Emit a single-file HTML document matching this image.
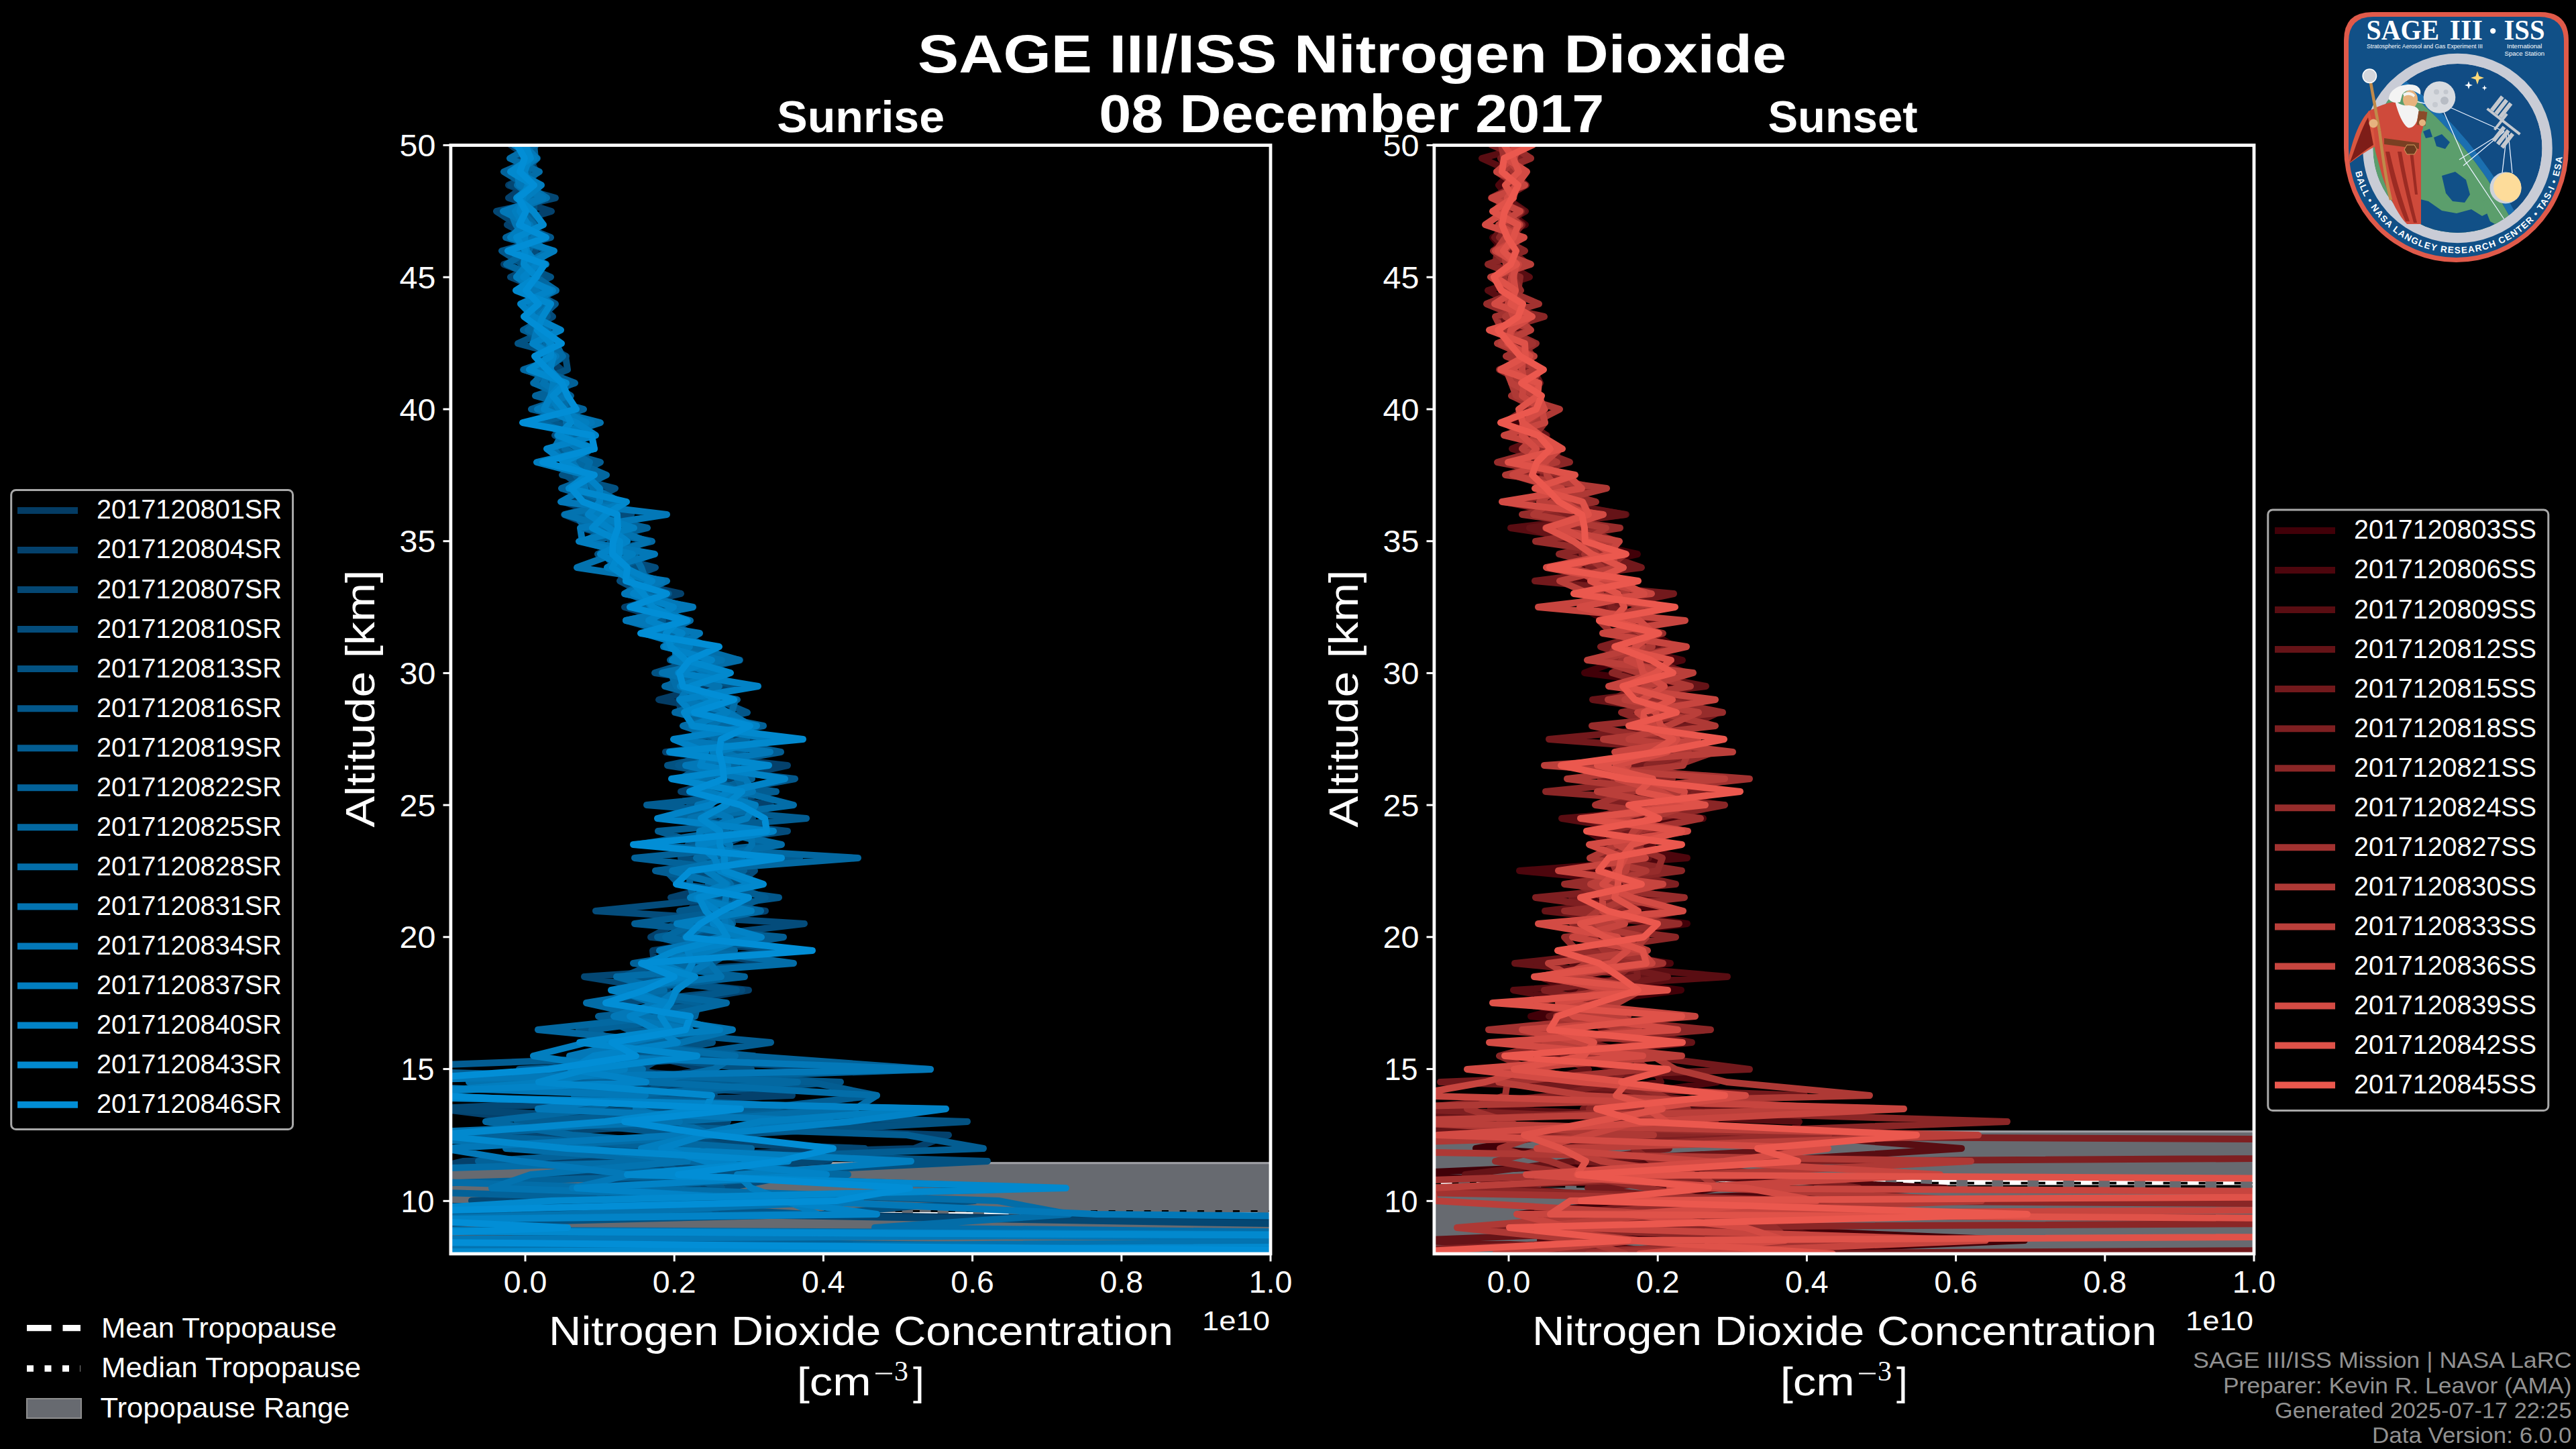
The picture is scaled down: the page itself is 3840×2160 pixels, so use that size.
<!DOCTYPE html>
<html><head><meta charset="utf-8"><title>SAGE III/ISS Nitrogen Dioxide</title>
<style>html,body{margin:0;padding:0;background:#000;}body{width:3840px;height:2160px;overflow:hidden;position:relative;}</style>
</head><body>
<svg width="3840" height="2160" viewBox="0 0 3840 2160" style="position:absolute;left:0;top:0" font-family='"Liberation Sans", sans-serif'>
<rect width="3840" height="2160" fill="#000"/>
<defs>
<clipPath id="clipL"><rect x="671.9" y="216.5" width="1222.1" height="1652.5"/></clipPath>
<clipPath id="clipR"><rect x="2137.9" y="216.5" width="1222.1" height="1652.5"/></clipPath>
</defs>
<g clip-path="url(#clipL)">
<rect x="671.9" y="1732.5" width="1222.1" height="146.5" fill="#676a70"/>
<line x1="671.9" y1="1733.7" x2="1894.0" y2="1733.7" stroke="#a0a1a6" stroke-width="3"/>
<line x1="671.9" y1="1812.0" x2="1894.0" y2="1812.0" stroke="#fff" stroke-width="10" stroke-dasharray="36.7 16.3"/>
<line x1="671.9" y1="1805.3" x2="1894.0" y2="1805.3" stroke="#000" stroke-width="2.7" stroke-dasharray="10 16.7 10 16.3"/>
<line x1="681.9" y1="1812.3" x2="1894.0" y2="1812.3" stroke="#000" stroke-width="2.5" stroke-dasharray="16.7 36.3"/>
<polyline points="-696,1869 3067,1849 2633,1830 1118,1810 996,1790 1061,1771 910,1751 1236,1731 1192,1712 986,1692 1245,1672 863,1653 898,1633 1140,1613 910,1594 1027,1574 924,1554 973,1535 1014,1515 908,1495 953,1476 1099,1456 975,1436 973,1417 1104,1397 1074,1377 1027,1358 1045,1338 1124,1318 1107,1298 1032,1279 1053,1259 1119,1239 1096,1220 1047,1200 1113,1180 1103,1161 1037,1141 1054,1121 1109,1102 1063,1082 1090,1062 982,1043 1057,1023 1028,1003 1002,984 1054,964 1014,944 967,925 1021,905 957,885 950,866 935,846 938,826 867,807 941,787 896,767 840,748 910,728 855,708 875,689 835,669 852,649 846,630 820,610 847,590 817,571 827,551 804,531 830,512 803,492 794,472 809,453 805,433 802,413 751,394 817,374 781,354 777,335 772,315 807,295 758,276 799,256 790,236 761,216" fill="none" stroke="#043c64" stroke-width="10" stroke-linejoin="round" stroke-linecap="round"/>
<polyline points="3656,1869 3037,1849 36,1830 1005,1810 461,1790 577,1771 608,1751 690,1731 1363,1712 1414,1692 811,1672 656,1653 1181,1633 931,1613 1058,1594 967,1574 1041,1554 980,1535 915,1515 1005,1495 1116,1476 925,1456 999,1436 1160,1417 970,1397 1007,1377 1141,1358 1000,1338 1080,1318 1102,1298 1057,1279 1049,1259 1082,1239 1076,1220 1149,1200 1015,1180 1082,1161 1174,1141 992,1121 1143,1102 1067,1082 1015,1062 1012,1043 1094,1023 1044,1003 1037,984 1002,964 1028,944 999,925 931,905 1015,885 928,866 922,846 928,826 962,807 891,787 841,767 916,748 871,728 864,708 852,689 836,669 879,649 817,630 841,610 826,590 822,571 837,551 813,531 799,512 802,492 807,472 816,453 787,433 795,413 784,394 788,374 791,354 756,335 822,315 758,295 784,276 801,256 775,236 782,216" fill="none" stroke="#04416c" stroke-width="10" stroke-linejoin="round" stroke-linecap="round"/>
<polyline points="2690,1869 2408,1849 2253,1830 1046,1810 703,1790 1040,1771 817,1751 1225,1731 1289,1712 745,1692 1085,1672 636,1653 1065,1633 996,1613 1259,1594 910,1574 1042,1554 1028,1535 965,1515 1002,1495 995,1476 871,1456 1163,1436 1007,1417 1040,1397 1014,1377 1033,1358 1077,1338 1108,1318 1022,1298 1081,1279 1079,1259 1127,1239 1046,1220 1087,1200 1138,1180 1024,1161 1112,1141 1019,1121 1116,1102 1059,1082 1062,1062 1033,1043 1026,1023 1051,1003 1022,984 1050,964 1006,944 950,925 1013,905 943,885 970,866 918,846 900,826 964,807 896,787 862,767 868,748 895,728 852,708 869,689 868,669 861,649 818,630 858,610 830,590 807,571 804,551 844,531 810,512 830,492 795,472 793,453 809,433 761,413 805,394 782,374 811,354 771,335 740,315 828,295 761,276 798,256 773,236 788,216" fill="none" stroke="#044773" stroke-width="10" stroke-linejoin="round" stroke-linecap="round"/>
<polyline points="3261,1869 -316,1849 -806,1830 903,1810 894,1790 1080,1771 1189,1751 1019,1731 1090,1712 1014,1692 1417,1672 957,1653 951,1633 1006,1613 956,1594 991,1574 952,1554 992,1535 941,1515 922,1495 1106,1476 925,1456 1061,1436 1093,1417 1030,1397 1199,1377 888,1358 1086,1338 1099,1318 1125,1298 1015,1279 1026,1259 1174,1239 1004,1220 1106,1200 1123,1180 1026,1161 1083,1141 1110,1121 1049,1102 1082,1082 1018,1062 1075,1043 1015,1023 1019,1003 1103,984 995,964 1016,944 955,925 995,905 961,885 924,866 977,846 897,826 923,807 876,787 941,767 883,748 870,728 843,708 862,689 880,669 827,649 848,630 834,610 814,590 855,571 780,551 840,531 808,512 787,492 824,472 802,453 791,433 782,413 805,394 797,374 776,354 803,335 776,315 783,295 791,276 765,256 783,236 791,216" fill="none" stroke="#044c7b" stroke-width="10" stroke-linejoin="round" stroke-linecap="round"/>
<polyline points="639,1869 -269,1849 432,1830 1226,1810 1453,1790 901,1771 1060,1751 1472,1731 857,1712 1081,1692 1442,1672 841,1653 962,1633 984,1613 1120,1594 957,1574 1062,1554 941,1535 971,1515 1046,1495 926,1476 1019,1456 1062,1436 1083,1417 1006,1397 1078,1377 1061,1358 1100,1338 1106,1318 979,1298 1102,1279 1079,1259 1105,1239 1122,1220 1032,1200 1091,1180 1118,1161 995,1141 1089,1121 1080,1102 1080,1082 1068,1062 1031,1043 1111,1023 976,1003 1038,984 1047,964 1002,944 978,925 987,905 976,885 936,866 953,846 891,826 934,807 868,787 905,767 877,748 917,728 838,708 871,689 834,669 856,649 840,630 827,610 850,590 795,571 846,551 843,531 772,512 816,492 782,472 816,453 774,433 821,413 777,394 769,374 789,354 777,335 796,315 796,295 771,276 775,256 785,236 790,216" fill="none" stroke="#035282" stroke-width="10" stroke-linejoin="round" stroke-linecap="round"/>
<polyline points="75,1869 3890,1849 -452,1830 1203,1810 855,1790 1076,1771 1019,1751 983,1731 924,1712 1032,1692 823,1672 1145,1653 959,1633 1253,1613 774,1594 1124,1574 896,1554 863,1535 998,1515 986,1495 1098,1476 929,1456 977,1436 1172,1417 1024,1397 1069,1377 1013,1358 1161,1338 1012,1318 993,1298 1096,1279 1081,1259 1101,1239 1117,1220 1028,1200 1082,1180 1185,1161 1011,1141 1055,1121 1089,1102 1019,1082 1114,1062 1069,1043 1003,1023 1076,1003 999,984 1030,964 985,944 988,925 961,905 997,885 941,866 937,846 903,826 910,807 912,787 915,767 883,748 857,728 881,708 884,689 830,669 876,649 823,630 848,610 809,590 845,571 793,551 831,531 805,512 785,492 807,472 828,453 790,433 805,413 779,394 748,374 821,354 773,335 783,315 783,295 779,276 780,256 801,236 778,216" fill="none" stroke="#03578a" stroke-width="10" stroke-linejoin="round" stroke-linecap="round"/>
<polyline points="3354,1869 3528,1849 -736,1830 1068,1810 944,1790 1552,1771 969,1751 949,1731 1466,1712 1352,1692 771,1672 1126,1653 1307,1633 1208,1613 478,1594 1009,1574 1149,1554 937,1535 892,1515 1076,1495 944,1476 992,1456 1030,1436 1043,1417 1168,1397 946,1377 1083,1358 1141,1338 1084,1318 977,1298 1192,1279 1049,1259 981,1239 1202,1220 964,1200 1157,1180 1014,1161 1049,1141 1164,1121 1060,1102 1050,1082 1068,1062 1045,1043 1039,1023 1013,1003 1064,984 1008,964 1000,944 984,925 982,905 937,885 972,866 922,846 972,826 870,807 912,787 903,767 900,748 871,728 858,708 895,689 823,669 852,649 876,630 792,610 851,590 820,571 799,551 822,531 828,512 780,492 816,472 812,453 783,433 799,413 779,394 787,374 784,354 785,335 794,315 778,295 803,276 772,256 781,236 799,216" fill="none" stroke="#035d92" stroke-width="10" stroke-linejoin="round" stroke-linecap="round"/>
<polyline points="2602,1869 811,1849 -757,1830 896,1810 1064,1790 426,1771 1064,1751 713,1731 1039,1712 698,1692 949,1672 1256,1653 856,1633 851,1613 1387,1594 1114,1574 920,1554 882,1535 1036,1515 1041,1495 928,1476 1110,1456 944,1436 1061,1417 980,1397 1092,1377 1088,1358 1100,1338 1056,1318 1109,1298 946,1279 1152,1259 1071,1239 1044,1220 1117,1200 1054,1180 1121,1161 1052,1141 1107,1121 1022,1102 1138,1082 1036,1062 1099,1043 995,1023 1025,1003 1041,984 1006,964 992,944 1010,925 976,905 952,885 955,866 923,846 946,826 882,807 965,787 866,767 903,748 837,728 889,708 851,689 870,669 848,649 807,630 870,610 798,590 857,571 805,551 801,531 833,512 800,492 789,472 800,453 810,433 770,413 794,394 822,374 754,354 796,335 785,315 790,295 784,276 751,256 798,236 796,216" fill="none" stroke="#036299" stroke-width="10" stroke-linejoin="round" stroke-linecap="round"/>
<polyline points="445,1869 3998,1849 -73,1830 1058,1810 902,1790 887,1771 1264,1751 1026,1731 1120,1712 853,1692 724,1672 889,1653 929,1633 1189,1613 812,1594 1004,1574 999,1554 802,1535 990,1515 1083,1495 931,1476 1075,1456 1005,1436 1095,1417 992,1397 1033,1377 1134,1358 1034,1338 1028,1318 1029,1298 1279,1279 949,1259 1081,1239 1008,1220 1110,1200 1110,1180 1099,1161 1098,1141 1024,1121 1113,1102 1093,1082 1006,1062 1065,1043 991,1023 1056,1003 1010,984 1061,964 989,944 1029,925 953,905 979,885 947,866 932,846 895,826 972,807 872,787 858,767 905,748 863,728 904,708 859,689 863,669 861,649 804,630 817,610 838,590 840,571 781,551 838,531 829,512 787,492 810,472 788,453 829,433 799,413 755,394 788,374 797,354 791,335 781,315 787,295 788,276 787,256 791,236 771,216" fill="none" stroke="#0368a1" stroke-width="10" stroke-linejoin="round" stroke-linecap="round"/>
<polyline points="40,1869 3066,1849 1304,1830 1594,1810 1488,1790 923,1771 332,1751 1013,1731 754,1712 1063,1692 1010,1672 1275,1653 1307,1633 969,1613 1064,1594 1096,1574 904,1554 1016,1535 965,1515 874,1495 990,1476 919,1456 1183,1436 1044,1417 1021,1397 1059,1377 1070,1358 1050,1338 1089,1318 1071,1298 1038,1279 1165,1259 1070,1239 1030,1220 1183,1200 1105,1180 1048,1161 1084,1141 1018,1121 1078,1102 1018,1082 1091,1062 1096,1043 1008,1023 1000,1003 1102,984 1032,964 1002,944 933,925 1023,905 931,885 963,866 956,846 945,826 872,807 908,787 875,767 906,748 856,728 871,708 879,689 842,669 849,649 844,630 843,610 839,590 796,571 813,551 839,531 814,512 817,492 797,472 812,453 784,433 779,413 810,394 765,374 786,354 796,335 776,315 796,295 771,276 804,256 760,236 796,216" fill="none" stroke="#036da8" stroke-width="10" stroke-linejoin="round" stroke-linecap="round"/>
<polyline points="-387,1869 2256,1849 208,1830 847,1810 1283,1790 733,1771 791,1751 1025,1731 877,1712 531,1692 1013,1672 948,1653 950,1633 699,1613 958,1594 874,1574 1016,1554 1092,1535 958,1515 975,1495 917,1476 1075,1456 1058,1436 1003,1417 1095,1397 1089,1377 1068,1358 1047,1338 1072,1318 1002,1298 1105,1279 1121,1259 1119,1239 1029,1220 1120,1200 1046,1180 1042,1161 1127,1141 1081,1121 1024,1102 1061,1082 1086,1062 1035,1043 1072,1023 987,1003 1076,984 989,964 1023,944 953,925 1026,905 952,885 994,866 860,846 915,826 965,807 910,787 842,767 925,748 884,728 876,708 840,689 826,669 837,649 895,630 817,610 838,590 810,571 821,551 816,531 802,512 813,492 791,472 805,453 815,433 781,413 782,394 818,374 783,354 769,335 761,315 815,295 785,276 766,256 800,236 766,216" fill="none" stroke="#0373b0" stroke-width="10" stroke-linejoin="round" stroke-linecap="round"/>
<polyline points="295,1869 382,1849 3651,1830 1634,1810 1190,1790 853,1771 940,1751 776,1731 660,1712 1019,1692 1238,1672 802,1653 962,1633 426,1613 1387,1594 849,1574 936,1554 1029,1535 915,1515 983,1495 1010,1476 1018,1456 1054,1436 983,1417 1075,1397 1081,1377 1079,1358 1082,1338 1084,1318 1053,1298 1084,1279 1088,1259 1054,1239 1089,1220 1040,1200 1122,1180 1111,1161 1022,1141 1148,1121 1011,1102 1120,1082 1086,1062 1014,1043 1027,1023 1057,1003 1008,984 1006,964 1043,944 933,925 1033,905 931,885 987,866 908,846 976,826 868,807 865,787 994,767 836,748 872,728 867,708 853,689 862,669 831,649 882,630 801,610 846,590 835,571 803,551 829,531 795,512 800,492 803,472 821,453 798,433 770,413 814,394 765,374 798,354 790,335 750,315 810,295 774,276 771,256 800,236 781,216" fill="none" stroke="#0378b8" stroke-width="10" stroke-linejoin="round" stroke-linecap="round"/>
<polyline points="244,1869 3847,1849 -307,1830 1219,1810 1172,1790 1120,1771 1099,1751 1358,1731 956,1712 1039,1692 1133,1672 1382,1653 571,1633 813,1613 931,1594 795,1574 875,1554 1073,1535 992,1515 992,1495 941,1476 1035,1456 985,1436 1060,1417 1115,1397 1009,1377 1120,1358 1029,1338 1082,1318 1055,1298 1132,1279 1041,1259 1043,1239 1113,1220 1126,1200 1053,1180 1032,1161 1085,1141 1063,1121 1153,1102 1031,1082 1084,1062 1056,1043 1014,1023 1073,1003 1002,984 1028,964 959,944 1025,925 971,905 956,885 970,866 905,846 943,826 863,807 945,787 884,767 930,748 851,728 873,708 800,689 886,669 835,649 874,630 833,610 821,590 825,571 820,551 814,531 820,512 807,492 794,472 791,453 824,433 770,413 786,394 826,374 761,354 780,335 768,315 784,295 807,276 769,256 796,236 767,216" fill="none" stroke="#027ebf" stroke-width="10" stroke-linejoin="round" stroke-linecap="round"/>
<polyline points="775,1869 3443,1849 -386,1830 1307,1810 1159,1790 860,1771 1232,1751 1051,1731 986,1712 1051,1692 1266,1672 1410,1653 493,1633 963,1613 851,1594 885,1574 1010,1554 978,1535 939,1515 996,1495 911,1476 1021,1456 1032,1436 1025,1417 1135,1397 1063,1377 1069,1358 1039,1338 1121,1318 1073,1298 1065,1279 1042,1259 1153,1239 980,1220 1058,1200 1085,1180 1170,1161 1044,1141 1052,1121 1004,1102 1128,1082 1031,1062 1013,1043 1130,1023 1011,1003 1061,984 992,964 1017,944 967,925 1004,905 944,885 972,866 931,846 895,826 935,807 908,787 877,767 894,748 894,728 873,708 842,689 815,669 888,649 859,630 811,610 821,590 838,571 820,551 825,531 794,512 836,492 795,472 776,453 820,433 780,413 801,394 785,374 782,354 787,335 775,315 779,295 787,276 782,256 789,236 782,216" fill="none" stroke="#0283c7" stroke-width="10" stroke-linejoin="round" stroke-linecap="round"/>
<polyline points="140,1869 3634,1849 -546,1830 492,1810 822,1790 1589,1771 935,1751 1175,1731 845,1712 645,1692 902,1672 1052,1653 1061,1633 803,1613 874,1594 1039,1574 864,1554 998,1535 985,1515 1000,1495 1008,1476 1036,1456 964,1436 1007,1417 1084,1397 1072,1377 1052,1358 1042,1338 1138,1318 1080,1298 1080,1279 1073,1259 1073,1239 1045,1220 1082,1200 1106,1180 1001,1161 1146,1141 998,1121 1197,1102 1033,1082 1020,1062 1069,1043 1030,1023 1089,1003 1022,984 1000,964 993,944 1012,925 973,905 959,885 941,866 913,846 923,826 924,807 883,787 903,767 934,748 848,728 877,708 839,689 882,669 832,649 851,630 841,610 824,590 844,571 789,551 821,531 821,512 801,492 809,472 821,453 769,433 800,413 781,394 783,374 770,354 810,335 795,315 770,295 795,276 761,256 791,236 783,216" fill="none" stroke="#0289ce" stroke-width="10" stroke-linejoin="round" stroke-linecap="round"/>
<polyline points="2427,1869 338,1849 846,1830 422,1810 1247,1790 1356,1771 1011,1751 1161,1731 1242,1712 1064,1692 931,1672 1104,1653 643,1633 552,1613 818,1594 948,1574 912,1554 1022,1535 1029,1515 903,1495 961,1476 1005,1456 956,1436 1211,1417 1023,1397 1044,1377 1076,1358 1116,1338 1008,1318 1029,1298 1165,1279 944,1259 1143,1239 1140,1220 1104,1200 1028,1180 1079,1161 1077,1141 1072,1121 1075,1102 1118,1082 1035,1062 1094,1043 1018,1023 1013,1003 1028,984 1072,964 955,944 1024,925 939,905 994,885 933,866 935,846 913,826 914,807 921,787 920,767 869,748 852,728 886,708 809,689 886,669 882,649 779,630 859,610 846,590 838,571 816,551 797,531 837,512 809,492 781,472 803,453 784,433 799,413 812,394 757,374 814,354 774,335 784,315 773,295 796,276 775,256 782,236 771,216" fill="none" stroke="#028ed6" stroke-width="10" stroke-linejoin="round" stroke-linecap="round"/>
</g>
<rect x="671.9" y="216.5" width="1222.1" height="1652.5" fill="none" stroke="#fff" stroke-width="4.8"/>
<line x1="660.5" y1="1790.3" x2="671.9" y2="1790.3" stroke="#fff" stroke-width="3"/>
<text x="647.4" y="1806.8" font-size="46.5" text-anchor="end" font-weight="normal" fill="#fff" textLength="50" lengthAdjust="spacingAndGlyphs">10</text>
<line x1="660.5" y1="1593.6" x2="671.9" y2="1593.6" stroke="#fff" stroke-width="3"/>
<text x="647.4" y="1610.1" font-size="46.5" text-anchor="end" font-weight="normal" fill="#fff" textLength="50" lengthAdjust="spacingAndGlyphs">15</text>
<line x1="660.5" y1="1396.8" x2="671.9" y2="1396.8" stroke="#fff" stroke-width="3"/>
<text x="649.4" y="1413.3" font-size="46.5" text-anchor="end" font-weight="normal" fill="#fff" textLength="54" lengthAdjust="spacingAndGlyphs">20</text>
<line x1="660.5" y1="1200.1" x2="671.9" y2="1200.1" stroke="#fff" stroke-width="3"/>
<text x="649.4" y="1216.6" font-size="46.5" text-anchor="end" font-weight="normal" fill="#fff" textLength="54" lengthAdjust="spacingAndGlyphs">25</text>
<line x1="660.5" y1="1003.4" x2="671.9" y2="1003.4" stroke="#fff" stroke-width="3"/>
<text x="649.4" y="1019.9" font-size="46.5" text-anchor="end" font-weight="normal" fill="#fff" textLength="54" lengthAdjust="spacingAndGlyphs">30</text>
<line x1="660.5" y1="806.7" x2="671.9" y2="806.7" stroke="#fff" stroke-width="3"/>
<text x="649.4" y="823.2" font-size="46.5" text-anchor="end" font-weight="normal" fill="#fff" textLength="54" lengthAdjust="spacingAndGlyphs">35</text>
<line x1="660.5" y1="610.0" x2="671.9" y2="610.0" stroke="#fff" stroke-width="3"/>
<text x="649.4" y="626.5" font-size="46.5" text-anchor="end" font-weight="normal" fill="#fff" textLength="54" lengthAdjust="spacingAndGlyphs">40</text>
<line x1="660.5" y1="413.2" x2="671.9" y2="413.2" stroke="#fff" stroke-width="3"/>
<text x="649.4" y="429.7" font-size="46.5" text-anchor="end" font-weight="normal" fill="#fff" textLength="54" lengthAdjust="spacingAndGlyphs">45</text>
<line x1="660.5" y1="216.5" x2="671.9" y2="216.5" stroke="#fff" stroke-width="3"/>
<text x="649.4" y="233.0" font-size="46.5" text-anchor="end" font-weight="normal" fill="#fff" textLength="54" lengthAdjust="spacingAndGlyphs">50</text>
<line x1="783.0" y1="1869.0" x2="783.0" y2="1880.4" stroke="#fff" stroke-width="3"/>
<text x="783.0" y="1927.0" font-size="46.5" text-anchor="middle" font-weight="normal" fill="#fff">0.0</text>
<line x1="1005.2" y1="1869.0" x2="1005.2" y2="1880.4" stroke="#fff" stroke-width="3"/>
<text x="1005.2" y="1927.0" font-size="46.5" text-anchor="middle" font-weight="normal" fill="#fff">0.2</text>
<line x1="1227.4" y1="1869.0" x2="1227.4" y2="1880.4" stroke="#fff" stroke-width="3"/>
<text x="1227.4" y="1927.0" font-size="46.5" text-anchor="middle" font-weight="normal" fill="#fff">0.4</text>
<line x1="1449.6" y1="1869.0" x2="1449.6" y2="1880.4" stroke="#fff" stroke-width="3"/>
<text x="1449.6" y="1927.0" font-size="46.5" text-anchor="middle" font-weight="normal" fill="#fff">0.6</text>
<line x1="1671.8" y1="1869.0" x2="1671.8" y2="1880.4" stroke="#fff" stroke-width="3"/>
<text x="1671.8" y="1927.0" font-size="46.5" text-anchor="middle" font-weight="normal" fill="#fff">0.8</text>
<line x1="1894.0" y1="1869.0" x2="1894.0" y2="1880.4" stroke="#fff" stroke-width="3"/>
<text x="1894.0" y="1927.0" font-size="46.5" text-anchor="middle" font-weight="normal" fill="#fff">1.0</text>
<g clip-path="url(#clipR)">
<rect x="2137.9" y="1685.6" width="1222.1" height="193.3" fill="#676a70"/>
<line x1="2137.9" y1="1686.8" x2="3360.0" y2="1686.8" stroke="#a0a1a6" stroke-width="3"/>
<line x1="2137.9" y1="1763.9" x2="3360.0" y2="1763.9" stroke="#fff" stroke-width="13.7" stroke-dasharray="36.7 16.3"/>
<line x1="2137.9" y1="1763.7" x2="3360.0" y2="1763.7" stroke="#000" stroke-width="3.8" stroke-dasharray="10 16.7 10 16.3"/>
<line x1="2137.9" y1="1768.6" x2="3360.0" y2="1768.6" stroke="#000" stroke-width="4.2" stroke-dasharray="36.7 16.3"/>
<polyline points="2554,1869 3018,1849 2557,1830 2263,1810 2442,1790 2562,1771 2043,1751 2506,1731 2200,1712 2311,1692 2515,1672 2465,1653 2388,1633 2292,1613 2477,1594 2246,1574 2353,1554 2478,1535 2282,1515 2357,1495 2506,1476 2347,1456 2349,1436 2394,1417 2363,1397 2515,1377 2380,1358 2432,1338 2418,1318 2359,1298 2489,1279 2403,1259 2449,1239 2346,1220 2553,1200 2411,1180 2442,1161 2485,1141 2442,1121 2473,1102 2455,1082 2474,1062 2487,1043 2518,1023 2362,1003 2416,984 2497,964 2463,944 2394,925 2357,905 2437,885 2390,866 2351,846 2441,826 2354,807 2308,787 2383,767 2297,748 2359,728 2289,708 2323,689 2259,669 2306,649 2258,630 2291,610 2288,590 2268,571 2267,551 2271,531 2256,512 2248,492 2268,472 2248,453 2255,433 2245,413 2258,394 2242,374 2225,354 2274,335 2246,315 2238,295 2268,276 2248,256 2263,236 2250,216" fill="none" stroke="#410008" stroke-width="10" stroke-linejoin="round" stroke-linecap="round"/>
<polyline points="2509,1869 2296,1849 2625,1830 2472,1810 2391,1790 2900,1771 2465,1751 2464,1731 2299,1712 2614,1692 2475,1672 2595,1653 2417,1633 2560,1613 2403,1594 2352,1574 2370,1554 2420,1535 2362,1515 2392,1495 2345,1476 2295,1456 2490,1436 2368,1417 2382,1397 2384,1377 2489,1358 2352,1338 2477,1318 2265,1298 2515,1279 2401,1259 2366,1239 2539,1220 2414,1200 2501,1180 2457,1161 2475,1141 2408,1121 2491,1102 2513,1082 2509,1062 2429,1043 2434,1023 2424,1003 2508,984 2423,964 2425,944 2446,925 2398,905 2424,885 2352,866 2416,846 2400,826 2355,807 2320,787 2375,767 2326,748 2347,728 2272,708 2294,689 2275,669 2270,649 2283,630 2287,610 2279,590 2256,571 2270,551 2276,531 2272,512 2238,492 2269,472 2256,453 2258,433 2245,413 2255,394 2227,374 2242,354 2271,335 2253,315 2249,295 2234,276 2253,256 2249,236 2254,216" fill="none" stroke="#4d060d" stroke-width="10" stroke-linejoin="round" stroke-linecap="round"/>
<polyline points="2531,1869 2732,1849 2654,1830 2476,1810 2420,1790 2500,1771 2414,1751 2627,1731 2924,1712 2667,1692 2682,1672 2222,1653 2353,1633 2476,1613 2466,1594 2304,1574 2459,1554 2388,1535 2374,1515 2364,1495 2256,1476 2575,1456 2344,1436 2367,1417 2398,1397 2412,1377 2356,1358 2402,1338 2479,1318 2387,1298 2388,1279 2464,1259 2448,1239 2328,1220 2568,1200 2443,1180 2448,1161 2434,1141 2438,1121 2495,1102 2449,1082 2524,1062 2452,1043 2449,1023 2483,1003 2454,984 2406,964 2453,944 2454,925 2383,905 2446,885 2411,866 2371,846 2343,826 2386,807 2252,787 2424,767 2304,748 2298,728 2302,708 2320,689 2254,669 2303,649 2276,630 2293,610 2266,590 2261,571 2264,551 2286,531 2265,512 2263,492 2259,472 2253,453 2218,433 2280,413 2246,394 2238,374 2252,354 2239,335 2274,315 2245,295 2254,276 2253,256 2209,236 2282,216" fill="none" stroke="#590d12" stroke-width="10" stroke-linejoin="round" stroke-linecap="round"/>
<polyline points="2588,1869 2103,1849 2586,1830 2351,1810 2476,1790 2255,1771 2184,1751 2343,1731 2715,1712 2344,1692 1851,1672 2626,1653 2467,1633 2288,1613 2368,1594 2321,1574 2522,1554 2417,1535 2309,1515 2388,1495 2405,1476 2461,1456 2258,1436 2431,1417 2422,1397 2475,1377 2303,1358 2468,1338 2438,1318 2335,1298 2458,1279 2408,1259 2393,1239 2430,1220 2492,1200 2513,1180 2418,1161 2477,1141 2438,1121 2513,1102 2474,1082 2512,1062 2374,1043 2543,1023 2439,1003 2380,984 2476,964 2427,944 2470,925 2389,905 2409,885 2397,866 2368,846 2401,826 2341,807 2280,787 2422,767 2316,748 2331,728 2259,708 2314,689 2300,669 2305,649 2279,630 2289,610 2255,590 2296,571 2286,551 2250,531 2255,512 2276,492 2233,472 2260,453 2247,433 2252,413 2263,394 2250,374 2228,354 2243,335 2271,315 2243,295 2259,276 2236,256 2282,236 2245,216" fill="none" stroke="#651317" stroke-width="10" stroke-linejoin="round" stroke-linecap="round"/>
<polyline points="2530,1869 6000,1849 6000,1830 2321,1810 2535,1790 2367,1771 2631,1751 2352,1731 2488,1712 2258,1692 2401,1672 2360,1653 2690,1633 2147,1613 2608,1594 2450,1574 2368,1554 2350,1535 2423,1515 2341,1495 2358,1476 2486,1456 2389,1436 2397,1417 2373,1397 2377,1377 2420,1358 2343,1338 2465,1318 2440,1298 2441,1279 2391,1259 2431,1239 2360,1220 2536,1200 2455,1180 2482,1161 2433,1141 2563,1121 2309,1102 2518,1082 2562,1062 2403,1043 2445,1023 2515,1003 2457,984 2401,964 2440,944 2410,925 2399,905 2495,885 2288,866 2447,846 2389,826 2346,807 2341,787 2327,767 2313,748 2363,728 2307,708 2287,689 2311,669 2258,649 2290,630 2275,610 2284,590 2259,571 2282,551 2252,531 2285,512 2249,492 2265,472 2232,453 2257,433 2238,413 2278,394 2252,374 2238,354 2263,335 2229,315 2242,295 2275,276 2250,256 2237,236 2259,216" fill="none" stroke="#72191c" stroke-width="10" stroke-linejoin="round" stroke-linecap="round"/>
<polyline points="1965,1869 2442,1849 2219,1830 2721,1810 2707,1790 2771,1771 2638,1751 2667,1731 6000,1712 2198,1692 2557,1672 2090,1653 2322,1633 2406,1613 2423,1594 2331,1574 2327,1554 2478,1535 2327,1515 2386,1495 2302,1476 2441,1456 2439,1436 2338,1417 2415,1397 2407,1377 2439,1358 2289,1338 2498,1318 2409,1298 2404,1279 2411,1259 2481,1239 2436,1220 2392,1200 2558,1180 2386,1161 2489,1141 2512,1121 2468,1102 2455,1082 2463,1062 2511,1043 2435,1023 2507,1003 2444,984 2386,964 2456,944 2438,925 2402,905 2401,885 2427,866 2369,846 2358,826 2367,807 2370,787 2336,767 2243,748 2379,728 2300,708 2315,689 2324,669 2272,649 2243,630 2274,610 2293,590 2272,571 2273,551 2272,531 2261,512 2248,492 2293,472 2231,453 2252,433 2260,413 2229,394 2232,374 2253,354 2269,335 2239,315 2243,295 2255,276 2246,256 2270,236 2223,216" fill="none" stroke="#7e1f21" stroke-width="10" stroke-linejoin="round" stroke-linecap="round"/>
<polyline points="2311,1869 2701,1849 2290,1830 6000,1810 2693,1790 2123,1771 2635,1751 2463,1731 2435,1712 2436,1692 2992,1672 2369,1653 2459,1633 2383,1613 2281,1594 2235,1574 2310,1554 2550,1535 2343,1515 2380,1495 2382,1476 2410,1456 2436,1436 2357,1417 2498,1397 2344,1377 2419,1358 2391,1338 2351,1318 2507,1298 2388,1279 2446,1259 2403,1239 2467,1220 2571,1200 2304,1180 2493,1161 2455,1141 2527,1121 2434,1102 2471,1082 2417,1062 2518,1043 2470,1023 2403,1003 2446,984 2451,964 2430,944 2426,925 2419,905 2433,885 2390,866 2401,846 2324,826 2410,807 2354,787 2317,767 2263,748 2365,728 2262,708 2340,689 2288,669 2293,649 2279,630 2299,610 2261,590 2274,571 2235,551 2285,531 2271,512 2235,492 2302,472 2217,453 2263,433 2266,413 2218,394 2273,374 2235,354 2248,335 2268,315 2223,295 2261,276 2232,256 2251,236 2260,216" fill="none" stroke="#8a2626" stroke-width="10" stroke-linejoin="round" stroke-linecap="round"/>
<polyline points="2327,1869 2667,1849 2646,1830 2368,1810 2553,1790 2456,1771 2349,1751 2229,1731 2307,1712 2726,1692 2117,1672 2516,1653 2476,1633 2428,1613 2458,1594 2429,1574 2346,1554 2440,1535 2343,1515 2368,1495 2386,1476 2330,1456 2465,1436 2351,1417 2332,1397 2503,1377 2332,1358 2511,1338 2332,1318 2471,1298 2478,1279 2426,1259 2499,1239 2366,1220 2465,1200 2408,1180 2406,1161 2499,1141 2555,1121 2466,1102 2373,1082 2568,1062 2472,1043 2414,1023 2499,1003 2395,984 2409,964 2479,944 2397,925 2446,905 2404,885 2376,866 2398,846 2422,826 2289,807 2415,787 2269,767 2379,748 2305,728 2332,708 2232,689 2305,669 2288,649 2303,630 2287,610 2268,590 2261,571 2263,551 2260,531 2290,512 2246,492 2263,472 2216,453 2267,433 2255,413 2249,394 2226,374 2264,354 2250,335 2231,315 2255,295 2262,276 2231,256 2282,236 2251,216" fill="none" stroke="#962c2b" stroke-width="10" stroke-linejoin="round" stroke-linecap="round"/>
<polyline points="2367,1869 2776,1849 2388,1830 2638,1810 2700,1790 1793,1771 2365,1751 2311,1731 2236,1712 2293,1692 2249,1672 2187,1653 2244,1633 2247,1613 2452,1594 2344,1574 2491,1554 2219,1535 2427,1515 2266,1495 2401,1476 2337,1456 2479,1436 2391,1417 2375,1397 2400,1377 2397,1358 2432,1338 2426,1318 2409,1298 2401,1279 2437,1259 2441,1239 2535,1220 2378,1200 2432,1180 2608,1161 2332,1141 2477,1121 2505,1102 2445,1082 2500,1062 2443,1043 2433,1023 2489,1003 2417,984 2505,964 2403,944 2384,925 2452,905 2379,885 2411,866 2388,846 2362,826 2395,807 2304,787 2364,767 2341,748 2322,728 2254,708 2307,689 2310,669 2291,649 2271,630 2298,610 2253,590 2283,571 2296,551 2245,531 2285,512 2239,492 2229,472 2294,453 2247,433 2242,413 2249,394 2242,374 2253,354 2261,335 2246,315 2240,295 2267,276 2256,256 2242,236 2238,216" fill="none" stroke="#a23230" stroke-width="10" stroke-linejoin="round" stroke-linecap="round"/>
<polyline points="2423,1869 2361,1849 2172,1830 2414,1810 2954,1790 2561,1771 2535,1751 2938,1731 1771,1712 2465,1692 2068,1672 1948,1653 2787,1633 2574,1613 2498,1594 2463,1574 2284,1554 2434,1535 2320,1515 2412,1495 2446,1476 2330,1456 2365,1436 2435,1417 2454,1397 2357,1377 2382,1358 2428,1338 2395,1318 2454,1298 2370,1279 2412,1259 2441,1239 2458,1220 2519,1200 2491,1180 2336,1161 2509,1141 2517,1121 2390,1102 2557,1082 2472,1062 2397,1043 2520,1023 2443,1003 2383,984 2463,964 2448,944 2412,925 2446,905 2424,885 2412,866 2342,846 2380,826 2361,807 2394,787 2286,767 2314,748 2395,728 2244,708 2321,689 2276,669 2273,649 2286,630 2325,610 2260,590 2253,571 2285,551 2276,531 2232,512 2281,492 2244,472 2270,453 2249,433 2257,413 2245,394 2242,374 2265,354 2243,335 2229,315 2256,295 2261,276 2241,256 2258,236 2249,216" fill="none" stroke="#ae3935" stroke-width="10" stroke-linejoin="round" stroke-linecap="round"/>
<polyline points="2229,1869 2442,1849 2277,1830 2477,1810 2139,1790 2135,1771 2524,1751 2387,1731 2334,1712 2949,1692 2016,1672 2758,1653 2362,1633 2234,1613 2233,1594 2507,1574 2303,1554 2443,1535 2417,1515 2251,1495 2465,1476 2343,1456 2308,1436 2456,1417 2404,1397 2382,1377 2507,1358 2414,1338 2371,1318 2424,1298 2427,1279 2424,1259 2435,1239 2456,1220 2491,1200 2381,1180 2571,1161 2302,1141 2583,1121 2428,1102 2486,1082 2532,1062 2422,1043 2454,1023 2524,1003 2366,984 2448,964 2410,944 2436,925 2469,905 2369,885 2325,866 2408,846 2404,826 2400,807 2311,787 2384,767 2295,748 2321,728 2306,708 2304,689 2269,669 2291,649 2275,630 2303,610 2289,590 2253,571 2245,551 2287,531 2238,512 2282,492 2259,472 2254,453 2251,433 2222,413 2282,394 2230,374 2244,354 2266,335 2242,315 2241,295 2261,276 2264,256 2246,236 2257,216" fill="none" stroke="#ba3f3a" stroke-width="10" stroke-linejoin="round" stroke-linecap="round"/>
<polyline points="2481,1869 2960,1849 2341,1830 2261,1810 6000,1790 2489,1771 2892,1751 2541,1731 2291,1712 2368,1692 2441,1672 2838,1653 2101,1633 2214,1613 2281,1594 2413,1574 2358,1554 2269,1535 2527,1515 2327,1495 2398,1476 2309,1456 2463,1436 2445,1417 2344,1397 2422,1377 2389,1358 2389,1338 2479,1318 2323,1298 2453,1279 2410,1259 2514,1239 2400,1220 2513,1200 2475,1180 2411,1161 2427,1141 2407,1121 2531,1102 2467,1082 2441,1062 2557,1043 2398,1023 2471,1003 2425,984 2514,964 2389,944 2512,925 2293,905 2462,885 2381,866 2339,846 2397,826 2414,807 2309,787 2363,767 2331,748 2328,728 2255,708 2303,689 2325,669 2242,649 2303,630 2298,610 2269,590 2272,571 2269,551 2270,531 2247,512 2254,492 2256,472 2248,453 2251,433 2253,413 2264,394 2229,374 2267,354 2234,335 2266,315 2224,295 2273,276 2231,256 2255,236 2270,216" fill="none" stroke="#c7453f" stroke-width="10" stroke-linejoin="round" stroke-linecap="round"/>
<polyline points="2444,1869 2661,1849 2602,1830 2426,1810 2708,1790 2603,1771 2275,1751 2570,1731 2725,1712 2143,1692 2484,1672 2456,1653 2602,1633 2355,1613 2187,1594 2449,1574 2220,1554 2501,1535 2346,1515 2323,1495 2422,1476 2293,1456 2402,1436 2426,1417 2411,1397 2293,1377 2509,1358 2433,1338 2389,1318 2412,1298 2422,1279 2369,1259 2516,1239 2369,1220 2506,1200 2511,1180 2443,1161 2409,1141 2485,1121 2500,1102 2476,1082 2468,1062 2448,1043 2481,1023 2449,1003 2444,984 2438,964 2465,944 2444,925 2355,905 2451,885 2414,866 2305,846 2406,826 2370,807 2327,787 2390,767 2239,748 2358,728 2337,708 2274,689 2290,669 2269,649 2270,630 2302,610 2294,590 2283,571 2253,551 2281,531 2248,512 2252,492 2283,472 2228,453 2259,433 2256,413 2260,394 2233,374 2272,354 2214,335 2244,315 2247,295 2261,276 2276,256 2245,236 2262,216" fill="none" stroke="#d34b44" stroke-width="10" stroke-linejoin="round" stroke-linecap="round"/>
<polyline points="2732,1869 2426,1849 6000,1830 2311,1810 2341,1790 6000,1771 2351,1751 2364,1731 2327,1712 2272,1692 2376,1672 2478,1653 2409,1633 2426,1613 2257,1594 2361,1574 2376,1554 2319,1535 2507,1515 2225,1495 2486,1476 2287,1456 2454,1436 2449,1417 2393,1397 2356,1377 2442,1358 2407,1338 2412,1318 2413,1298 2417,1279 2433,1259 2507,1239 2356,1220 2542,1200 2443,1180 2464,1161 2381,1141 2463,1121 2494,1102 2449,1082 2451,1062 2493,1043 2423,1023 2468,1003 2491,984 2407,964 2473,944 2403,925 2421,905 2412,885 2371,866 2420,846 2373,826 2346,807 2305,787 2368,767 2359,748 2288,728 2348,708 2248,689 2329,669 2296,649 2270,630 2264,610 2292,590 2294,571 2237,551 2274,531 2273,512 2220,492 2284,472 2252,453 2259,433 2229,413 2261,394 2241,374 2256,354 2263,335 2225,315 2256,295 2244,276 2264,256 2256,236 2242,216" fill="none" stroke="#df5249" stroke-width="10" stroke-linejoin="round" stroke-linecap="round"/>
<polyline points="2053,1869 2427,1849 2250,1830 3022,1810 2357,1790 2547,1771 2353,1751 2680,1731 2620,1712 2857,1692 2444,1672 2380,1653 2571,1633 2417,1613 2486,1594 2243,1574 2508,1554 2310,1535 2322,1515 2381,1495 2442,1476 2414,1456 2384,1436 2322,1417 2450,1397 2471,1377 2397,1358 2356,1338 2447,1318 2383,1298 2398,1279 2507,1259 2365,1239 2473,1220 2428,1200 2594,1180 2424,1161 2327,1141 2472,1121 2570,1102 2428,1082 2499,1062 2437,1043 2419,1023 2494,1003 2461,984 2408,964 2472,944 2384,925 2497,905 2346,885 2442,866 2310,846 2424,826 2363,807 2362,787 2358,767 2324,748 2305,728 2284,708 2291,689 2311,669 2293,649 2237,630 2290,610 2298,590 2268,571 2301,551 2266,531 2250,512 2233,492 2263,472 2270,453 2238,433 2227,413 2252,394 2260,374 2247,354 2239,335 2243,315 2254,295 2263,276 2239,256 2242,236 2285,216" fill="none" stroke="#eb584e" stroke-width="10" stroke-linejoin="round" stroke-linecap="round"/>
</g>
<rect x="2137.9" y="216.5" width="1222.1" height="1652.5" fill="none" stroke="#fff" stroke-width="4.8"/>
<line x1="2126.5" y1="1790.3" x2="2137.9" y2="1790.3" stroke="#fff" stroke-width="3"/>
<text x="2113.4" y="1806.8" font-size="46.5" text-anchor="end" font-weight="normal" fill="#fff" textLength="50" lengthAdjust="spacingAndGlyphs">10</text>
<line x1="2126.5" y1="1593.6" x2="2137.9" y2="1593.6" stroke="#fff" stroke-width="3"/>
<text x="2113.4" y="1610.1" font-size="46.5" text-anchor="end" font-weight="normal" fill="#fff" textLength="50" lengthAdjust="spacingAndGlyphs">15</text>
<line x1="2126.5" y1="1396.8" x2="2137.9" y2="1396.8" stroke="#fff" stroke-width="3"/>
<text x="2115.4" y="1413.3" font-size="46.5" text-anchor="end" font-weight="normal" fill="#fff" textLength="54" lengthAdjust="spacingAndGlyphs">20</text>
<line x1="2126.5" y1="1200.1" x2="2137.9" y2="1200.1" stroke="#fff" stroke-width="3"/>
<text x="2115.4" y="1216.6" font-size="46.5" text-anchor="end" font-weight="normal" fill="#fff" textLength="54" lengthAdjust="spacingAndGlyphs">25</text>
<line x1="2126.5" y1="1003.4" x2="2137.9" y2="1003.4" stroke="#fff" stroke-width="3"/>
<text x="2115.4" y="1019.9" font-size="46.5" text-anchor="end" font-weight="normal" fill="#fff" textLength="54" lengthAdjust="spacingAndGlyphs">30</text>
<line x1="2126.5" y1="806.7" x2="2137.9" y2="806.7" stroke="#fff" stroke-width="3"/>
<text x="2115.4" y="823.2" font-size="46.5" text-anchor="end" font-weight="normal" fill="#fff" textLength="54" lengthAdjust="spacingAndGlyphs">35</text>
<line x1="2126.5" y1="610.0" x2="2137.9" y2="610.0" stroke="#fff" stroke-width="3"/>
<text x="2115.4" y="626.5" font-size="46.5" text-anchor="end" font-weight="normal" fill="#fff" textLength="54" lengthAdjust="spacingAndGlyphs">40</text>
<line x1="2126.5" y1="413.2" x2="2137.9" y2="413.2" stroke="#fff" stroke-width="3"/>
<text x="2115.4" y="429.7" font-size="46.5" text-anchor="end" font-weight="normal" fill="#fff" textLength="54" lengthAdjust="spacingAndGlyphs">45</text>
<line x1="2126.5" y1="216.5" x2="2137.9" y2="216.5" stroke="#fff" stroke-width="3"/>
<text x="2115.4" y="233.0" font-size="46.5" text-anchor="end" font-weight="normal" fill="#fff" textLength="54" lengthAdjust="spacingAndGlyphs">50</text>
<line x1="2249.0" y1="1869.0" x2="2249.0" y2="1880.4" stroke="#fff" stroke-width="3"/>
<text x="2249.0" y="1927.0" font-size="46.5" text-anchor="middle" font-weight="normal" fill="#fff">0.0</text>
<line x1="2471.2" y1="1869.0" x2="2471.2" y2="1880.4" stroke="#fff" stroke-width="3"/>
<text x="2471.2" y="1927.0" font-size="46.5" text-anchor="middle" font-weight="normal" fill="#fff">0.2</text>
<line x1="2693.4" y1="1869.0" x2="2693.4" y2="1880.4" stroke="#fff" stroke-width="3"/>
<text x="2693.4" y="1927.0" font-size="46.5" text-anchor="middle" font-weight="normal" fill="#fff">0.4</text>
<line x1="2915.6" y1="1869.0" x2="2915.6" y2="1880.4" stroke="#fff" stroke-width="3"/>
<text x="2915.6" y="1927.0" font-size="46.5" text-anchor="middle" font-weight="normal" fill="#fff">0.6</text>
<line x1="3137.8" y1="1869.0" x2="3137.8" y2="1880.4" stroke="#fff" stroke-width="3"/>
<text x="3137.8" y="1927.0" font-size="46.5" text-anchor="middle" font-weight="normal" fill="#fff">0.8</text>
<line x1="3360.0" y1="1869.0" x2="3360.0" y2="1880.4" stroke="#fff" stroke-width="3"/>
<text x="3360.0" y="1927.0" font-size="46.5" text-anchor="middle" font-weight="normal" fill="#fff">1.0</text>
<text x="2015.5" y="108.0" font-size="79" text-anchor="middle" font-weight="bold" fill="#fff" textLength="1295" lengthAdjust="spacingAndGlyphs">SAGE III/ISS Nitrogen Dioxide</text>
<text x="2014.8" y="196.5" font-size="79" text-anchor="middle" font-weight="bold" fill="#fff" textLength="753" lengthAdjust="spacingAndGlyphs">08 December 2017</text>
<text x="1283.2" y="196.5" font-size="67.5" text-anchor="middle" font-weight="bold" fill="#fff" textLength="250" lengthAdjust="spacingAndGlyphs">Sunrise</text>
<text x="2747.0" y="196.5" font-size="67.5" text-anchor="middle" font-weight="bold" fill="#fff" textLength="223" lengthAdjust="spacingAndGlyphs">Sunset</text>
<text x="1283.5" y="2004.8" font-size="61" text-anchor="middle" font-weight="normal" fill="#fff" textLength="931" lengthAdjust="spacingAndGlyphs">Nitrogen Dioxide Concentration</text>
<text x="1187.7" y="2080.0" font-size="60" text-anchor="start" font-weight="normal" fill="#fff" textLength="111" lengthAdjust="spacingAndGlyphs">[cm</text>
<rect x="1305" y="2046.4" width="25" height="2.2" fill="#fff"/>
<text x="1333.0" y="2057.5" font-size="42" text-anchor="start" font-weight="normal" fill="#fff" font-family="Liberation Serif">3</text>
<text x="1361.0" y="2080.0" font-size="60" text-anchor="start" font-weight="normal" fill="#fff">]</text>
<text x="1893.0" y="1982.5" font-size="40" text-anchor="end" font-weight="normal" fill="#fff" textLength="101" lengthAdjust="spacingAndGlyphs">1e10</text>
<text x="0" y="0" font-size="61" text-anchor="middle" fill="#fff" transform="translate(557.5,1041.5) rotate(-90)" textLength="384" lengthAdjust="spacingAndGlyphs">Altitude [km]</text>
<text x="2749.4" y="2004.8" font-size="61" text-anchor="middle" font-weight="normal" fill="#fff" textLength="931" lengthAdjust="spacingAndGlyphs">Nitrogen Dioxide Concentration</text>
<text x="2653.7" y="2080.0" font-size="60" text-anchor="start" font-weight="normal" fill="#fff" textLength="111" lengthAdjust="spacingAndGlyphs">[cm</text>
<rect x="2771" y="2046.4" width="25" height="2.2" fill="#fff"/>
<text x="2799.0" y="2057.5" font-size="42" text-anchor="start" font-weight="normal" fill="#fff" font-family="Liberation Serif">3</text>
<text x="2827.0" y="2080.0" font-size="60" text-anchor="start" font-weight="normal" fill="#fff">]</text>
<text x="3359.0" y="1982.5" font-size="40" text-anchor="end" font-weight="normal" fill="#fff" textLength="101" lengthAdjust="spacingAndGlyphs">1e10</text>
<text x="0" y="0" font-size="61" text-anchor="middle" fill="#fff" transform="translate(2023.5,1041.5) rotate(-90)" textLength="384" lengthAdjust="spacingAndGlyphs">Altitude [km]</text>
<rect x="16.7" y="730.5" width="419.8" height="953" rx="7" fill="#000" stroke="#a8a8a8" stroke-width="3"/>
<line x1="26" y1="760.9" x2="116" y2="760.9" stroke="#043c64" stroke-width="10"/>
<text x="144.0" y="773.4" font-size="40" text-anchor="start" font-weight="normal" fill="#fff" textLength="276" lengthAdjust="spacingAndGlyphs">2017120801SR</text>
<line x1="26" y1="819.9" x2="116" y2="819.9" stroke="#04416c" stroke-width="10"/>
<text x="144.0" y="832.4" font-size="40" text-anchor="start" font-weight="normal" fill="#fff" textLength="276" lengthAdjust="spacingAndGlyphs">2017120804SR</text>
<line x1="26" y1="879.0" x2="116" y2="879.0" stroke="#044773" stroke-width="10"/>
<text x="144.0" y="891.5" font-size="40" text-anchor="start" font-weight="normal" fill="#fff" textLength="276" lengthAdjust="spacingAndGlyphs">2017120807SR</text>
<line x1="26" y1="938.0" x2="116" y2="938.0" stroke="#044c7b" stroke-width="10"/>
<text x="144.0" y="950.5" font-size="40" text-anchor="start" font-weight="normal" fill="#fff" textLength="276" lengthAdjust="spacingAndGlyphs">2017120810SR</text>
<line x1="26" y1="997.1" x2="116" y2="997.1" stroke="#035282" stroke-width="10"/>
<text x="144.0" y="1009.6" font-size="40" text-anchor="start" font-weight="normal" fill="#fff" textLength="276" lengthAdjust="spacingAndGlyphs">2017120813SR</text>
<line x1="26" y1="1056.2" x2="116" y2="1056.2" stroke="#03578a" stroke-width="10"/>
<text x="144.0" y="1068.7" font-size="40" text-anchor="start" font-weight="normal" fill="#fff" textLength="276" lengthAdjust="spacingAndGlyphs">2017120816SR</text>
<line x1="26" y1="1115.2" x2="116" y2="1115.2" stroke="#035d92" stroke-width="10"/>
<text x="144.0" y="1127.7" font-size="40" text-anchor="start" font-weight="normal" fill="#fff" textLength="276" lengthAdjust="spacingAndGlyphs">2017120819SR</text>
<line x1="26" y1="1174.2" x2="116" y2="1174.2" stroke="#036299" stroke-width="10"/>
<text x="144.0" y="1186.8" font-size="40" text-anchor="start" font-weight="normal" fill="#fff" textLength="276" lengthAdjust="spacingAndGlyphs">2017120822SR</text>
<line x1="26" y1="1233.3" x2="116" y2="1233.3" stroke="#0368a1" stroke-width="10"/>
<text x="144.0" y="1245.8" font-size="40" text-anchor="start" font-weight="normal" fill="#fff" textLength="276" lengthAdjust="spacingAndGlyphs">2017120825SR</text>
<line x1="26" y1="1292.3" x2="116" y2="1292.3" stroke="#036da8" stroke-width="10"/>
<text x="144.0" y="1304.8" font-size="40" text-anchor="start" font-weight="normal" fill="#fff" textLength="276" lengthAdjust="spacingAndGlyphs">2017120828SR</text>
<line x1="26" y1="1351.4" x2="116" y2="1351.4" stroke="#0373b0" stroke-width="10"/>
<text x="144.0" y="1363.9" font-size="40" text-anchor="start" font-weight="normal" fill="#fff" textLength="276" lengthAdjust="spacingAndGlyphs">2017120831SR</text>
<line x1="26" y1="1410.4" x2="116" y2="1410.4" stroke="#0378b8" stroke-width="10"/>
<text x="144.0" y="1422.9" font-size="40" text-anchor="start" font-weight="normal" fill="#fff" textLength="276" lengthAdjust="spacingAndGlyphs">2017120834SR</text>
<line x1="26" y1="1469.5" x2="116" y2="1469.5" stroke="#027ebf" stroke-width="10"/>
<text x="144.0" y="1482.0" font-size="40" text-anchor="start" font-weight="normal" fill="#fff" textLength="276" lengthAdjust="spacingAndGlyphs">2017120837SR</text>
<line x1="26" y1="1528.5" x2="116" y2="1528.5" stroke="#0283c7" stroke-width="10"/>
<text x="144.0" y="1541.0" font-size="40" text-anchor="start" font-weight="normal" fill="#fff" textLength="276" lengthAdjust="spacingAndGlyphs">2017120840SR</text>
<line x1="26" y1="1587.6" x2="116" y2="1587.6" stroke="#0289ce" stroke-width="10"/>
<text x="144.0" y="1600.1" font-size="40" text-anchor="start" font-weight="normal" fill="#fff" textLength="276" lengthAdjust="spacingAndGlyphs">2017120843SR</text>
<line x1="26" y1="1646.7" x2="116" y2="1646.7" stroke="#028ed6" stroke-width="10"/>
<text x="144.0" y="1659.2" font-size="40" text-anchor="start" font-weight="normal" fill="#fff" textLength="276" lengthAdjust="spacingAndGlyphs">2017120846SR</text>
<rect x="3380.8" y="760" width="418" height="895.5" rx="7" fill="#000" stroke="#a8a8a8" stroke-width="3"/>
<line x1="3391" y1="790.9" x2="3481" y2="790.9" stroke="#410008" stroke-width="10"/>
<text x="3509.0" y="803.4" font-size="40" text-anchor="start" font-weight="normal" fill="#fff" textLength="272" lengthAdjust="spacingAndGlyphs">2017120803SS</text>
<line x1="3391" y1="849.9" x2="3481" y2="849.9" stroke="#4d060d" stroke-width="10"/>
<text x="3509.0" y="862.4" font-size="40" text-anchor="start" font-weight="normal" fill="#fff" textLength="272" lengthAdjust="spacingAndGlyphs">2017120806SS</text>
<line x1="3391" y1="909.0" x2="3481" y2="909.0" stroke="#590d12" stroke-width="10"/>
<text x="3509.0" y="921.5" font-size="40" text-anchor="start" font-weight="normal" fill="#fff" textLength="272" lengthAdjust="spacingAndGlyphs">2017120809SS</text>
<line x1="3391" y1="968.0" x2="3481" y2="968.0" stroke="#651317" stroke-width="10"/>
<text x="3509.0" y="980.5" font-size="40" text-anchor="start" font-weight="normal" fill="#fff" textLength="272" lengthAdjust="spacingAndGlyphs">2017120812SS</text>
<line x1="3391" y1="1027.1" x2="3481" y2="1027.1" stroke="#72191c" stroke-width="10"/>
<text x="3509.0" y="1039.6" font-size="40" text-anchor="start" font-weight="normal" fill="#fff" textLength="272" lengthAdjust="spacingAndGlyphs">2017120815SS</text>
<line x1="3391" y1="1086.2" x2="3481" y2="1086.2" stroke="#7e1f21" stroke-width="10"/>
<text x="3509.0" y="1098.7" font-size="40" text-anchor="start" font-weight="normal" fill="#fff" textLength="272" lengthAdjust="spacingAndGlyphs">2017120818SS</text>
<line x1="3391" y1="1145.2" x2="3481" y2="1145.2" stroke="#8a2626" stroke-width="10"/>
<text x="3509.0" y="1157.7" font-size="40" text-anchor="start" font-weight="normal" fill="#fff" textLength="272" lengthAdjust="spacingAndGlyphs">2017120821SS</text>
<line x1="3391" y1="1204.2" x2="3481" y2="1204.2" stroke="#962c2b" stroke-width="10"/>
<text x="3509.0" y="1216.8" font-size="40" text-anchor="start" font-weight="normal" fill="#fff" textLength="272" lengthAdjust="spacingAndGlyphs">2017120824SS</text>
<line x1="3391" y1="1263.3" x2="3481" y2="1263.3" stroke="#a23230" stroke-width="10"/>
<text x="3509.0" y="1275.8" font-size="40" text-anchor="start" font-weight="normal" fill="#fff" textLength="272" lengthAdjust="spacingAndGlyphs">2017120827SS</text>
<line x1="3391" y1="1322.3" x2="3481" y2="1322.3" stroke="#ae3935" stroke-width="10"/>
<text x="3509.0" y="1334.8" font-size="40" text-anchor="start" font-weight="normal" fill="#fff" textLength="272" lengthAdjust="spacingAndGlyphs">2017120830SS</text>
<line x1="3391" y1="1381.4" x2="3481" y2="1381.4" stroke="#ba3f3a" stroke-width="10"/>
<text x="3509.0" y="1393.9" font-size="40" text-anchor="start" font-weight="normal" fill="#fff" textLength="272" lengthAdjust="spacingAndGlyphs">2017120833SS</text>
<line x1="3391" y1="1440.4" x2="3481" y2="1440.4" stroke="#c7453f" stroke-width="10"/>
<text x="3509.0" y="1452.9" font-size="40" text-anchor="start" font-weight="normal" fill="#fff" textLength="272" lengthAdjust="spacingAndGlyphs">2017120836SS</text>
<line x1="3391" y1="1499.5" x2="3481" y2="1499.5" stroke="#d34b44" stroke-width="10"/>
<text x="3509.0" y="1512.0" font-size="40" text-anchor="start" font-weight="normal" fill="#fff" textLength="272" lengthAdjust="spacingAndGlyphs">2017120839SS</text>
<line x1="3391" y1="1558.5" x2="3481" y2="1558.5" stroke="#df5249" stroke-width="10"/>
<text x="3509.0" y="1571.0" font-size="40" text-anchor="start" font-weight="normal" fill="#fff" textLength="272" lengthAdjust="spacingAndGlyphs">2017120842SS</text>
<line x1="3391" y1="1617.6" x2="3481" y2="1617.6" stroke="#eb584e" stroke-width="10"/>
<text x="3509.0" y="1630.1" font-size="40" text-anchor="start" font-weight="normal" fill="#fff" textLength="272" lengthAdjust="spacingAndGlyphs">2017120845SS</text>
<line x1="40" y1="1979.7" x2="120" y2="1979.7" stroke="#fff" stroke-width="9.3" stroke-dasharray="36.5 17"/>
<line x1="40" y1="2040" x2="120" y2="2040" stroke="#fff" stroke-width="9.3" stroke-dasharray="10 16.5"/>
<rect x="40" y="2085" width="81" height="29" fill="#676a70" stroke="#8e8e8e" stroke-width="2"/>
<text x="151.0" y="1993.5" font-size="42.5" text-anchor="start" font-weight="normal" fill="#fff" textLength="351" lengthAdjust="spacingAndGlyphs">Mean Tropopause</text>
<text x="151.0" y="2053.3" font-size="42.5" text-anchor="start" font-weight="normal" fill="#fff" textLength="387" lengthAdjust="spacingAndGlyphs">Median Tropopause</text>
<text x="149.5" y="2113.1" font-size="42.5" text-anchor="start" font-weight="normal" fill="#fff" textLength="372" lengthAdjust="spacingAndGlyphs">Tropopause Range</text>
<text x="3833.5" y="2038.9" font-size="33" text-anchor="end" font-weight="normal" fill="#919191" textLength="564.5" lengthAdjust="spacingAndGlyphs">SAGE III/ISS Mission | NASA LaRC</text>
<text x="3833.5" y="2076.7" font-size="33" text-anchor="end" font-weight="normal" fill="#919191" textLength="519.5" lengthAdjust="spacingAndGlyphs">Preparer: Kevin R. Leavor (AMA)</text>
<text x="3833.5" y="2113.5" font-size="33" text-anchor="end" font-weight="normal" fill="#919191" textLength="442.5" lengthAdjust="spacingAndGlyphs">Generated 2025-07-17 22:25</text>
<text x="3833.5" y="2150.7" font-size="33" text-anchor="end" font-weight="normal" fill="#919191" textLength="297.5" lengthAdjust="spacingAndGlyphs">Data Version: 6.0.0</text>
<g id="logo">
<defs>
<clipPath id="patchClip"><path d="M3501,62 Q3501,25 3538,25 L3785,25 Q3822,25 3822,62 L3822,221 A160.5,167 0 0 1 3501,221 Z"/></clipPath>
<clipPath id="diskClip"><circle cx="3663.5" cy="221" r="126"/></clipPath>
<clipPath id="sunClip"><circle cx="3735" cy="280" r="23.5"/></clipPath>
<path id="arcText" d="M3511.0,256.2 A156.5,156.5 0 0 0 3819.6,231.9"/>
</defs>
<path d="M3494,60 Q3494,18 3536,18 L3787,18 Q3829,18 3829,60 L3829,221 A167.5,170 0 0 1 3494,221 Z" fill="#e05a4a"/>
<path d="M3501,62 Q3501,25 3538,25 L3785,25 Q3822,25 3822,62 L3822,221 A160.5,163 0 0 1 3501,221 Z" fill="#115087"/>
<circle cx="3663.5" cy="221" r="133" fill="none" stroke="#c9ccd6" stroke-width="16.5"/>
<g clip-path="url(#diskClip)">
<circle cx="3663.5" cy="221" r="126" fill="#114c84"/>
<circle cx="3195" cy="612" r="623" fill="none" stroke="#1b6fb0" stroke-width="10"/>
<circle cx="3195" cy="612" r="618" fill="#5b9e6c"/>
<path d="M3628,205 L3640,200 L3652,212 L3645,222 L3632,218 Z M3612,196 L3622,192 L3626,204 L3616,206 Z" fill="#115087"/>
<path d="M3640,262 L3660,256 L3676,268 L3682,290 L3674,302 L3656,300 L3646,288 Z" fill="#115087"/>
<path d="M3604,296 L3620,300 L3640,314 L3662,318 L3684,312 L3700,322 L3712,316 L3730,350 L3600,350 Z" fill="#115087"/>
<path d="M3700,300 L3712,294 L3722,310 L3730,340 L3712,330 Z" fill="#5b9e6c"/>
<g stroke="#eaf2ff" stroke-width="1.3" fill="none">
<path d="M3733,196 L3652,160 M3733,196 L3666,238 M3733,196 L3672,247 M3737,198 L3730,258 M3739,198 L3745,258 M3596,150 L3640,160 L3675,240 L3735,330"/>
</g>
<circle cx="3636.5" cy="145" r="23.8" fill="#d8dbe0"/>
<circle cx="3644" cy="150" r="6" fill="#b7bcc4"/><circle cx="3632" cy="137" r="4" fill="#c3c7ce"/><circle cx="3646" cy="137" r="3.5" fill="#c3c7ce"/><circle cx="3630" cy="156" r="4" fill="#c6cad1"/>
<circle cx="3735" cy="280" r="23.5" fill="#cfd3da"/>
<circle cx="3739" cy="279" r="22" fill="#fddc9a" clip-path="url(#sunClip)"/>
<g fill="#c5c9cf" transform="rotate(38 3730 182)">
<rect x="3704" y="152" width="6" height="26"/><rect x="3712" y="152" width="6" height="26"/><rect x="3720" y="152" width="6" height="26"/>
<rect x="3734" y="186" width="6" height="26"/><rect x="3742" y="186" width="6" height="26"/><rect x="3750" y="186" width="6" height="26"/>
<rect x="3700" y="178" width="62" height="4"/><rect x="3726" y="168" width="4" height="30"/>
</g>
<path d="M3693,106 L3695.5,113.5 L3703,116 L3695.5,118.5 L3693,126 L3690.5,118.5 L3683,116 L3690.5,113.5 Z" fill="#fcd97a"/>
<path d="M3680,121 L3681.5,125.5 L3686,127 L3681.5,128.5 L3680,133 L3678.5,128.5 L3674,127 L3678.5,125.5 Z" fill="#fff"/>
<path d="M3703.6,127 L3704.7,130 L3707.6,131 L3704.7,132 L3703.6,135 L3702.5,132 L3699.6,131 L3702.5,130 Z" fill="#fff"/>
</g>
<g clip-path="url(#patchClip)">
<path d="M3530,166 C3545,158 3560,152 3572,152 L3590,186 L3606,168 L3614,165 L3612,190 L3609,200 L3609,334 L3588,334 C3574,320 3561,292 3551,262 L3541,226 Z" fill="#cf4a3b"/>
<path d="M3532,165 C3516,180 3505,214 3499,246 C3512,236 3526,226 3541,218 L3538,190 Z" fill="#d9563f"/>
<path d="M3530,175 C3520,192 3511,220 3503,242 C3515,232 3527,223 3538,216 Z" fill="#7e1d18"/>
<path d="M3556,226 C3562,262 3572,298 3586,330 L3592,330 C3580,296 3570,262 3562,226 Z M3574,226 C3580,262 3588,296 3598,332 L3603,332 C3594,296 3586,262 3580,226 Z M3592,226 L3600,290 L3604,290 L3597,226 Z" fill="#9c2b23"/>
<path d="M3554,206 L3606,213 L3606,222 L3554,215 Z" fill="#7a3f22"/>
<path d="M3588,216 L3599,216 L3603,223 L3599,230 L3588,230 L3584,223 Z" fill="#6b3a1f" stroke="#d4a060" stroke-width="1"/>
<path d="M3561,148 C3561,135 3575,126 3592,126 C3604,126 3610,132 3608,141 L3601,137 C3594,133 3585,134 3581,141 L3578,152 C3572,154 3565,153 3561,148 Z" fill="#f3f3f3"/>
<ellipse cx="3593" cy="148" rx="11" ry="13.5" fill="#e6b37e"/>
<path d="M3582,140 C3586,136 3596,136 3600,142 L3598,145 C3594,141 3587,141 3584,144 Z" fill="#f3f3f3"/>
<path d="M3570,150 C3577,156 3584,158 3590,157 C3597,158 3603,158 3606,165 L3603,180 C3600,188 3594,192 3589,190 C3582,185 3575,170 3570,150 Z" fill="#f3f3f3"/>
<line x1="3533" y1="118" x2="3547" y2="195" stroke="#c08a4a" stroke-width="4.5"/>
<path d="M3547,195 C3551,225 3555,262 3564,298" fill="none" stroke="#c08a4a" stroke-width="4.5"/>
<circle cx="3532.3" cy="113.3" r="10.2" fill="#d3d6dc" stroke="#fff" stroke-width="1.5"/>
<circle cx="3538" cy="184" r="6.5" fill="#e6b37e"/>
<rect x="3604" y="166" width="13" height="21" fill="#8a4a2a" transform="rotate(8 3610 176)"/>
<circle cx="3611" cy="183" r="5" fill="#e6b37e"/>
</g>
<g font-family="Liberation Serif" font-weight="bold" font-size="42.5" fill="#fff">
<text x="3527.5" y="59.4" textLength="108.5" lengthAdjust="spacingAndGlyphs">SAGE</text>
<text x="3651.5" y="59.4" textLength="49.5" lengthAdjust="spacingAndGlyphs">III</text>
<text x="3732.5" y="59.4" textLength="61" lengthAdjust="spacingAndGlyphs">ISS</text>
</g>
<circle cx="3716.2" cy="46.1" r="4.2" fill="#fff"/>
<text x="3528" y="72" font-size="9.5" fill="#fff" textLength="173" lengthAdjust="spacingAndGlyphs">Stratospheric Aerosol and Gas Experiment III</text>
<text x="3737" y="72" font-size="9.5" fill="#fff" textLength="52.5" lengthAdjust="spacingAndGlyphs">International</text>
<text x="3733.6" y="83" font-size="9.5" fill="#fff" textLength="59.4" lengthAdjust="spacingAndGlyphs">Space Station</text>
<text font-size="13.5" font-weight="bold" fill="#fff"><textPath href="#arcText" textLength="443" lengthAdjust="spacing">BALL &#8226; NASA LANGLEY RESEARCH CENTER &#8226; TAS-I &#8226; ESA</textPath></text>
</g>

</svg>
</body></html>
